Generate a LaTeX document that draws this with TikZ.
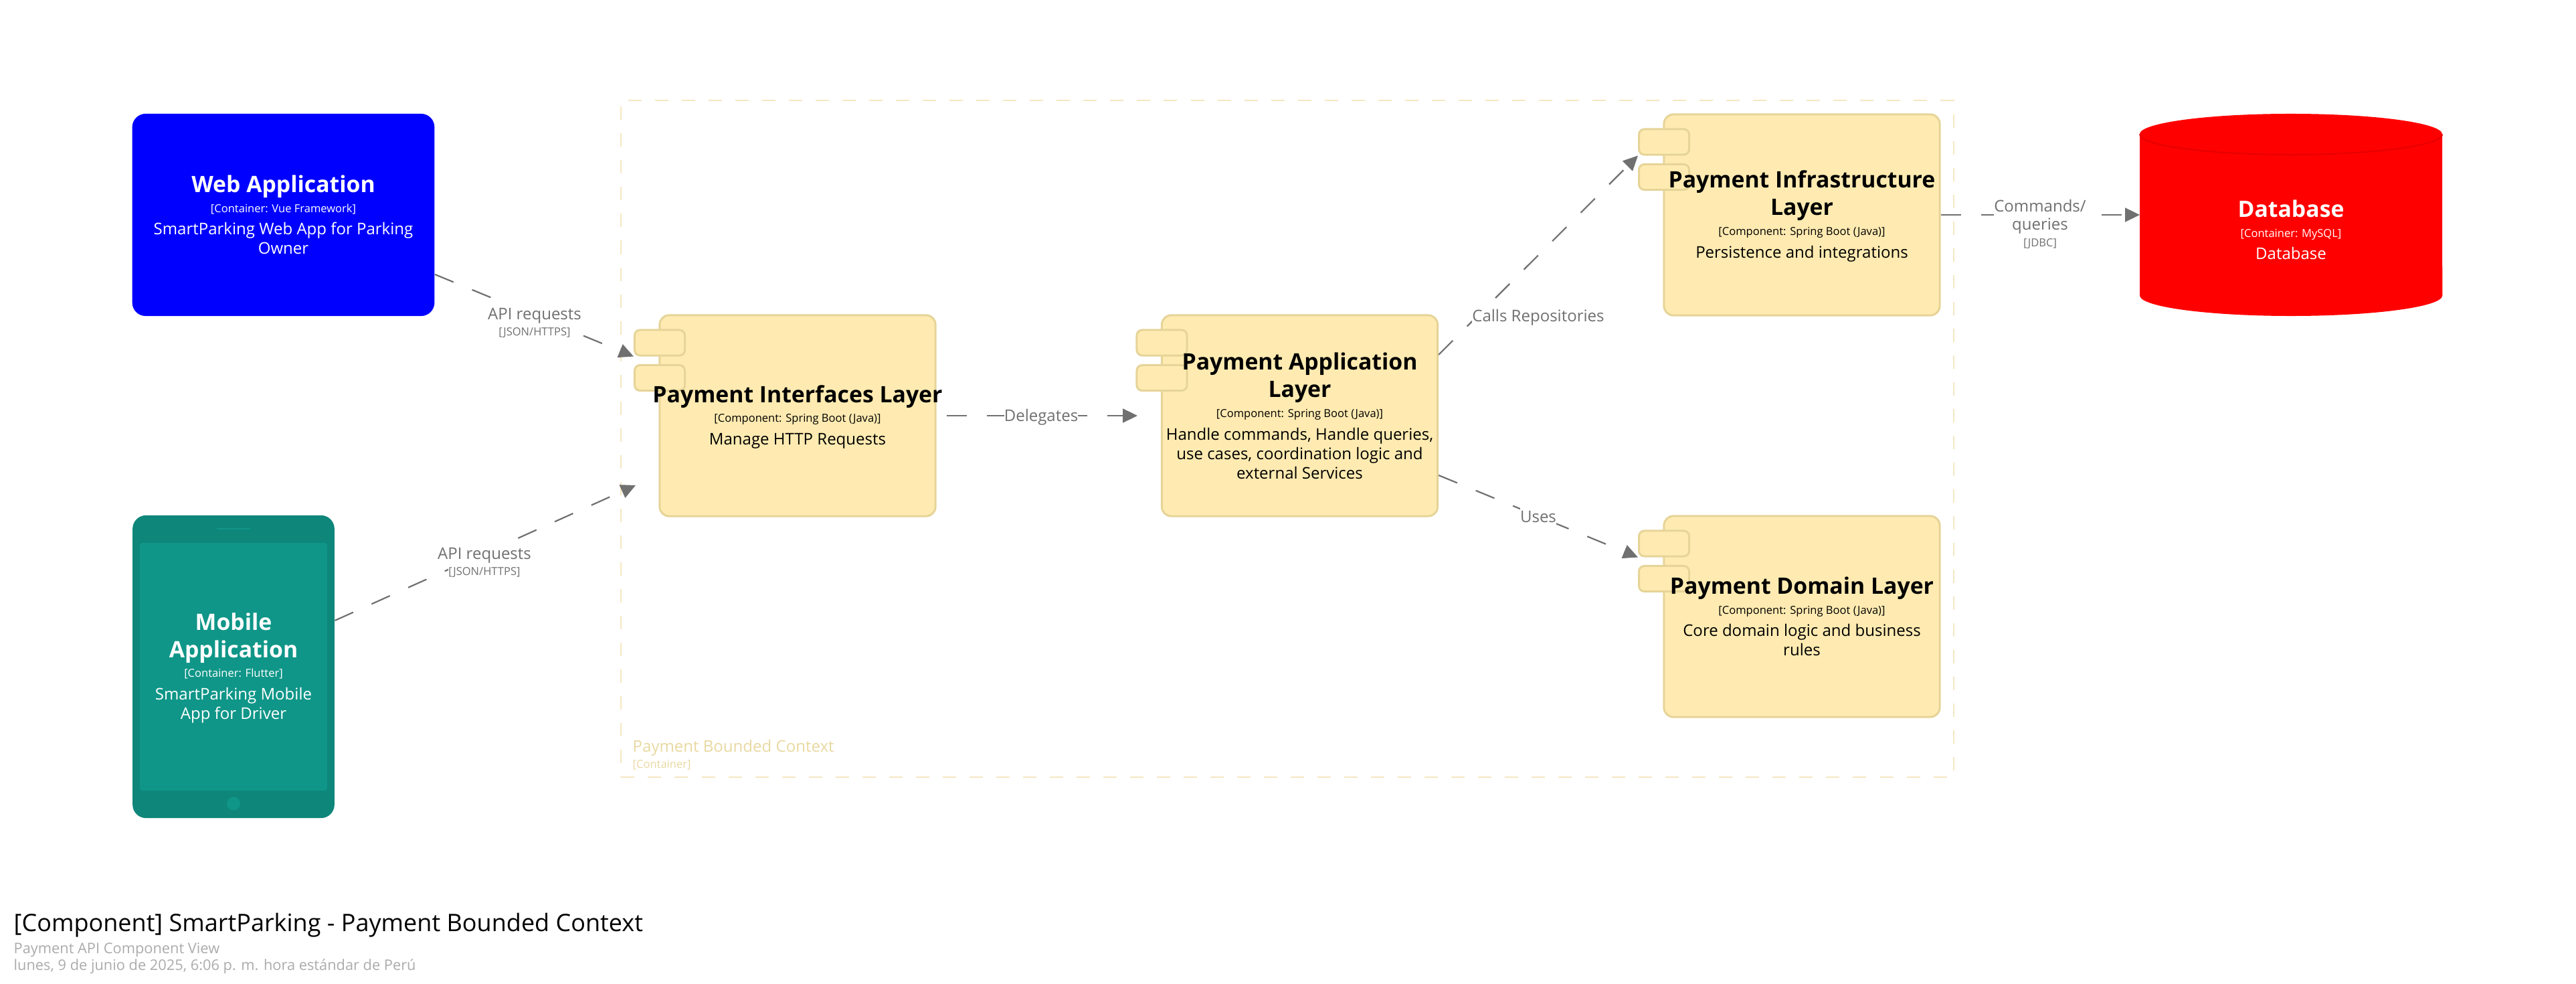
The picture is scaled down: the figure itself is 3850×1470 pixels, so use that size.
\documentclass[tikz,border=0pt]{standalone}
\usepackage{fontspec}
\setmainfont{Open Sans}
\usepackage{xcolor}
\usetikzlibrary{arrows.meta,positioning}
\definecolor{compfill}{HTML}{FFEBB1}
\definecolor{compline}{HTML}{E6D498}
\definecolor{ctxline}{HTML}{F5E7C2}
\definecolor{ctxtext}{HTML}{E9D8A0}
\definecolor{linkgrey}{HTML}{707070}
\definecolor{phonebody}{HTML}{0E867A}
\definecolor{phonescreen}{HTML}{0F9688}
\definecolor{dbline}{HTML}{E60000}
\newcommand{\ctitle}[1]{{\fontsize{9.6}{11.7}\selectfont\bfseries #1\par}}
\newcommand{\ctech}[1]{{\fontsize{4.7}{8.4}\selectfont #1\par}}
\newcommand{\cdesc}[1]{{\vspace{1.4pt}\fontsize{6.83}{8.25}\selectfont #1\par}}
\tikzset{
  compbox/.style={draw=compline,fill=compfill,line width=0.03cm,rounded corners=0.14cm,
                  minimum width=4.12cm,minimum height=3.0cm,inner sep=0},
  tabbox/.style={draw=compline,fill=compfill,line width=0.03cm,rounded corners=0.08cm,
                 minimum width=0.75cm,minimum height=0.38cm,inner sep=0},
  comptext/.style={align=flush center,text width=6cm,inner sep=0,text=black},
  lighttext/.style={align=flush center,text width=6cm,inner sep=0,text=white},
  linklabel/.style={fill=white,inner sep=0,text=linkgrey,minimum height=0.34cm,
                    font=\fontsize{6.83}{8.25}\selectfont},
  linksmall/.style={fill=white,inner sep=0,text=linkgrey,minimum height=0.2cm,
                    font=\fontsize{4.7}{6}\selectfont},
  uselink/.style={draw=linkgrey,line width=0.022cm,dash pattern=on 0.3cm off 0.3cm,
                  -{Triangle[length=0.22cm,width=0.21cm]}}
}
\begin{document}
\begin{tikzpicture}[x=0.01cm,y=-0.01cm]
  \useasboundingbox (0,0) rectangle (3850,1470);
  % Bounded context frame
  \node[draw=ctxline,line width=0.02cm,dash pattern=on 0.2cm off 0.2cm,minimum width=19.9cm,
        minimum height=10.105cm,inner sep=0] (ctxFrame) at (1924,655.5) {};
  \node[anchor=west,inner sep=0,text=ctxtext,font=\fontsize{6.83}{8.25}\selectfont] (ctxName) at (945,1117) {Payment Bounded Context};
  \node[anchor=west,inner sep=0,text=ctxtext,font=\fontsize{4.7}{6}\selectfont] (ctxKind) at (945,1143) {[Container]};
  % Web application
  \node[fill=blue,rounded corners=0.2cm,minimum width=4.515cm,minimum height=3.02cm,inner sep=0] (webApp) at (423.5,321) {};
  \node[lighttext] (webText) at (webApp)
    {\ctitle{Web Application}\ctech{[Container: Vue Framework]}\cdesc{SmartParking Web App for Parking\\Owner}};
  % Mobile application
  \node[fill=phonebody,rounded corners=0.2cm,minimum width=3.015cm,minimum height=4.52cm,inner sep=0] (mobileApp) at (349,996) {};
  \node[fill=phonescreen,rounded corners=0.04cm,minimum width=2.8cm,minimum height=3.7cm,inner sep=0] (mobileScreen) at (349,996) {};
  \node[lighttext] (mobileText) at (349,998)
    {\ctitle{Mobile\\Application}\ctech{[Container: Flutter]}\cdesc{SmartParking Mobile\\App for Driver}};
  \node[fill=phonescreen,minimum width=0.5cm,minimum height=0.025cm,inner sep=0] (mobileSpeaker) at (349,790) {};
  \node[circle,fill=phonescreen,minimum size=0.2cm,inner sep=0] (mobileButton) at (349,1200.5) {};
  % Component boxes and their tabs
  \foreach \nm/\cx/\cy in {ifLayer/1192/621,appLayer/1942.5/621,infraLayer/2693/321,domLayer/2693/921} {
    \node[compbox] (\nm) at (\cx,\cy) {};
    \node[tabbox] (\nm TabA) at ({\cx-206},{\cy-109}) {};
    \node[tabbox] (\nm TabB) at ({\cx-206},{\cy-56.5}) {};
  }
  \node[comptext] (ifText) at (1192,623) {\ctitle{Payment Interfaces Layer}\ctech{[Component: Spring Boot (Java)]}\cdesc{Manage HTTP Requests}};
  \node[comptext] (appText) at (appLayer) {\ctitle{Payment Application\\Layer}\ctech{[Component: Spring Boot (Java)]}\cdesc{Handle commands, Handle queries,\\use cases, coordination logic and\\external Services}};
  \node[comptext] (infraText) at (2693,323) {\ctitle{Payment Infrastructure\\Layer}\ctech{[Component: Spring Boot (Java)]}\cdesc{Persistence and integrations}};
  \node[comptext] (domText) at (domLayer) {\ctitle{Payment Domain Layer}\ctech{[Component: Spring Boot (Java)]}\cdesc{Core domain logic and business\\rules}};
  % Database
  \fill[red] (3198,200.5) -- (3198,441.5) arc[start angle=180,end angle=360,x radius=2.26cm,y radius=0.305cm]
             -- (3650,200.5) arc[start angle=0,end angle=180,x radius=2.26cm,y radius=0.305cm] -- cycle;
  \draw[dbline,line width=0.02cm] (3198,200.5) arc[start angle=180,end angle=360,x radius=2.26cm,y radius=0.305cm];
  \node[lighttext] (dbNode) at (3424,343.5)
    {\ctitle{Database}\ctech{[Container: MySQL]}\cdesc{Database}};
  % Connector ends
  \coordinate (webOut) at (webApp.east |- 0,410);
  \coordinate (mobileOut) at (mobileApp.east |- 0,927);
  \coordinate (mobileIn) at (950,725);
  \coordinate (ifOut) at (ifLayer.east);
  \coordinate (appIn) at (1700,621);
  \coordinate (appOutA) at (appLayer.east |- 0,530);
  \coordinate (appOutB) at (appLayer.east |- 0,710);
  \coordinate (infraOut) at (infraLayer.east);
  \coordinate (dbIn) at (3198,321);
  % Connectors
  \draw[uselink] (webOut) -- (ifLayerTabA.south west);
  \draw[uselink] (mobileOut) -- (mobileIn);
  \draw[uselink,dash phase=0.45cm] (ifOut) -- (appIn);
  \draw[uselink] (appOutA) -- (infraLayerTabA.south west);
  \draw[uselink] (appOutB) -- (domLayerTabA.south west);
  \draw[uselink] (infraOut) -- (dbIn);
  % Connector labels
  \node[linklabel] (apiLabelA) at (799,472) {API requests};
  \node[linksmall] (apiSmallA) at (799,497) {[JSON/HTTPS]};
  \node[linklabel] (apiLabelB) at (724,830) {API requests};
  \node[linksmall] (apiSmallB) at (724,855) {[JSON/HTTPS]};
  \node[linklabel] (delegatesLabel) at (1556,623) {Delegates};
  \node[linklabel] (callsLabel) at (2299,474) {Calls Repositories};
  \node[linklabel] (usesLabel) at (2299,772) {Uses};
  \node[linklabel] (commandsLabel) at (3049,307) {Commands/};
  \node[linklabel] (queriesLabel) at (3049,338) {queries};
  \node[linksmall] (jdbcLabel) at (3049,364) {[JDBC]};
  % Diagram title
  \node[anchor=west,inner sep=0,font=\fontsize{10.24}{12}\selectfont] (diagTitle) at (20,1382) {[Component] SmartParking - Payment Bounded Context};
  \node[anchor=west,inner sep=0,text=black!33,font=\fontsize{6.2}{8.25}\selectfont] (diagSub) at (20,1419) {Payment API Component View};
  \node[anchor=west,inner sep=0,text=black!33,font=\fontsize{6.2}{8.25}\selectfont] (diagDate) at (20,1444) {lunes, 9 de junio de 2025, 6:06 p. m. hora estándar de Perú};
\end{tikzpicture}
\end{document}
